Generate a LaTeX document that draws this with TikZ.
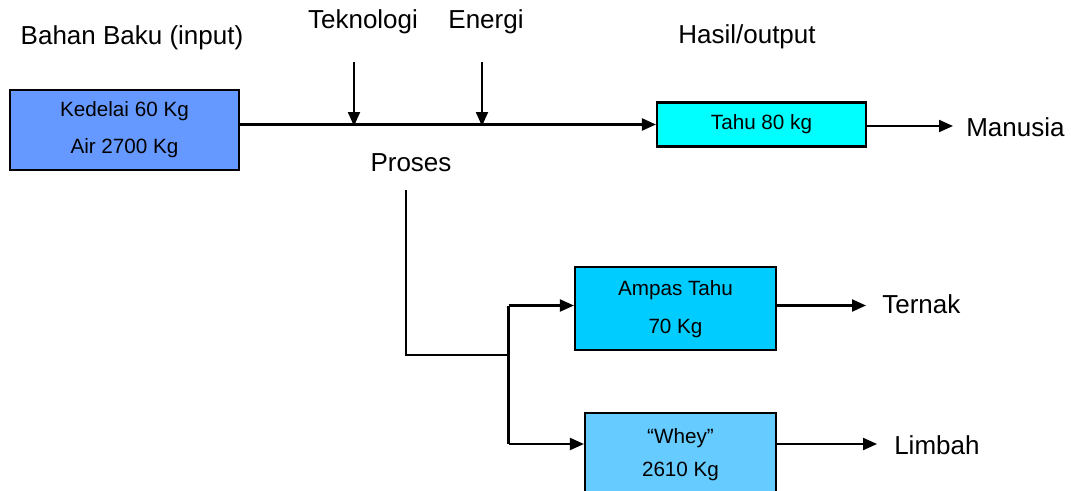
\documentclass[tikz,border=0pt]{standalone}
\usepackage{fontspec}
\setmainfont{Liberation Sans}
\usetikzlibrary{arrows.meta}
\begin{document}
\begin{tikzpicture}[x=0.75pt,y=-0.75pt,
  box/.style={draw=black,line width=1.6pt,inner sep=0pt,font=\fontsize{15.5}{20}\selectfont,align=center},
  btxt/.style={font=\fontsize{15.5}{20}\selectfont,inner sep=0pt},
  lbl/.style={inner sep=0pt,font=\fontsize{19.5}{23}\selectfont},
  conn/.style={line width=1.6pt},
  arr/.style={conn,-{Triangle[length=10.5pt,width=9pt]}}]
\useasboundingbox (0,0) rectangle (1071,490);
\clip (0,0) rectangle (1071,490);
% boxes
\node[box,fill={rgb,255:red,102;green,153;blue,255},minimum width=229*0.75pt,minimum height=80*0.75pt] (bahan) at (124.5,130) {};
\node[btxt] (kedelai) at (124.5,111) {Kedelai 60 Kg};
\node[btxt] (air) at (124.5,148) {Air 2700 Kg};
\node[box,fill={rgb,255:red,0;green,255;blue,255},minimum width=209*0.75pt,minimum height=44*0.75pt] (tahu) at (761.5,124.5) {Tahu 80 kg};
\node[box,fill={rgb,255:red,0;green,204;blue,255},minimum width=201*0.75pt,minimum height=83*0.75pt] (ampas) at (675.5,308.5) {};
\node[btxt] (ampas1) at (675.5,290) {Ampas Tahu};
\node[btxt] (ampas2) at (675.5,328) {70 Kg};
\node[box,fill={rgb,255:red,102;green,204;blue,255},minimum width=191*0.75pt,minimum height=90*0.75pt] (whey) at (680.5,458) {};
\node[btxt] (whey1) at (680.5,438) {``Whey''};
\node[btxt] (whey2) at (680.5,471) {2610 Kg};
% labels
\node[lbl] (lbahan) at (132,38) {Bahan Baku (input)};
\node[lbl] (ltek) at (363,22) {Teknologi};
\node[lbl] (lene) at (486,22) {Energi};
\node[lbl] (lhasil) at (747,37) {Hasil/output};
\node[lbl] (lproses) at (411,163) {Proses};
\node[lbl,anchor=west] (manusia) at (966,127) {Manusia};
\node[lbl,anchor=west] (ternak) at (882,304) {Ternak};
\node[lbl,anchor=west] (limbah) at (894,445) {Limbah};
% coordinates
\coordinate (tekTop) at (354,62);
\coordinate (tekBot) at (354,126);
\coordinate (eneTop) at (482,62);
\coordinate (eneBot) at (482,126);
\coordinate (pTop) at (406,190);
\coordinate (pBot) at (406,355);
\coordinate (split) at (508.5,355);
\coordinate (splitA) at (508.5,305.5);
\coordinate (splitW) at (508.5,444);
\coordinate (manEnd) at (953,126);
\coordinate (terEnd) at (866,305.5);
\coordinate (limEnd) at (877,444);
% connectors
\draw[arr] (bahan.east |- tahu.west) -- (tahu.west);
\draw[arr] (tekTop) -- (tekBot);
\draw[arr] (eneTop) -- (eneBot);
\draw[arr] (tahu.east |- manEnd) -- (manEnd);
\draw[conn] (pTop) -- (pBot) -- (split);
\draw[conn] (splitA) -- (splitW);
\draw[arr] (splitA) -- (ampas.west |- splitA);
\draw[arr] (splitW) -- (whey.west |- splitW);
\draw[arr] (ampas.east |- terEnd) -- (terEnd);
\draw[arr] (whey.east |- limEnd) -- (limEnd);
\end{tikzpicture}
\end{document}
